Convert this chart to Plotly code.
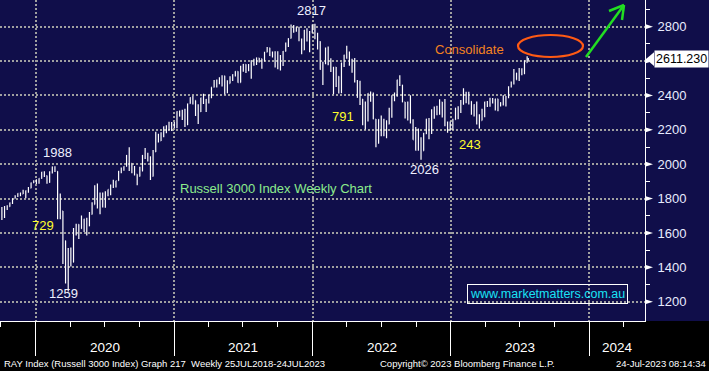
import plotly.graph_objects as go
import pandas as pd

# ---------------- data (weekly bars, Russell 3000 index) ----------------
FIRST_WEEK_END = "2019-10-04"
LAST_BAR_DATE = "2023-07-24"
FIRST_OPEN = 1745

HIGHS = [
    1751, 1757, 1761, 1777, 1800, 1819, 1831, 1835, 1851, 1847, 1868, 1894, 1907, 1912, 1918, 1955, 1959, 1928, 1959, 1987, 1988,
    1905, 1830, 1660, 1463, 1513, 1516, 1629,
    1653, 1647, 1702, 1683, 1688, 1722, 1779, 1878, 1888, 1836, 1836, 1842, 1853, 1882, 1909, 1904, 1961, 1981, 1988, 2053, 2099, 2003, 1990, 1942, 1985,
    2054, 2094, 2066, 2045, 2082, 2188, 2177, 2186, 2219, 2227, 2247, 2245, 2245,
    2308, 2313, 2317, 2322, 2352, 2390, 2398, 2365, 2348, 2386, 2410, 2379,
    2404, 2448, 2489, 2492, 2505, 2517, 2496, 2488, 2511, 2523, 2541, 2528, 2572, 2583, 2579, 2583, 2605, 2614,
    2620, 2614, 2613, 2654, 2682, 2678, 2655, 2657, 2657, 2635, 2658, 2708, 2733, 2812, 2810, 2797, 2800, 2731, 2781, 2791, 2774, 2813,
    2817, 2764, 2715, 2596, 2679, 2685, 2616, 2566, 2553, 2510, 2590, 2637, 2689, 2655, 2613, 2618, 2490, 2485, 2355, 2364,
    2412, 2423, 2417, 2215, 2262, 2283, 2265, 2246, 2328, 2401, 2417, 2491, 2517, 2446, 2356, 2364, 2401, 2262, 2216, 2207,
    2157, 2183, 2265, 2269, 2319, 2336, 2340, 2378, 2350, 2379, 2248, 2249,
    2265, 2327, 2337, 2373, 2441, 2422, 2422, 2362, 2348, 2365, 2291, 2322, 2363, 2368, 2386, 2385, 2381, 2375, 2361, 2401,
    2397, 2454, 2481, 2553, 2521, 2559, 2558, 2604, 2628, 2618,
]
LOWS = [
    1676, 1687, 1733, 1756, 1769, 1800, 1809, 1814, 1827, 1802, 1834, 1869, 1892, 1885, 1887, 1916, 1926, 1887, 1892, 1946, 1954,
    1680, 1680, 1420, 1306, 1259, 1405, 1461,
    1585, 1565, 1625, 1606, 1585, 1682, 1722, 1773, 1743, 1709, 1748, 1746, 1813, 1820, 1862, 1865, 1921, 1947, 1962, 1989, 1960, 1948, 1934, 1877, 1944,
    1979, 2030, 2015, 1908, 1935, 2107, 2126, 2135, 2156, 2180, 2199, 2193, 2210,
    2209, 2277, 2257, 2216, 2254, 2352, 2347, 2281, 2234, 2303, 2350, 2304,
    2353, 2384, 2446, 2446, 2465, 2452, 2405, 2412, 2477, 2484, 2510, 2473, 2499, 2537, 2531, 2541, 2497, 2572,
    2577, 2592, 2555, 2612, 2656, 2629, 2620, 2562, 2552, 2545, 2571, 2656, 2682, 2748, 2764, 2770, 2715, 2639, 2679, 2714, 2651, 2769,
    2727, 2667, 2549, 2461, 2583, 2575, 2536, 2407, 2449, 2411, 2413, 2566, 2614, 2572, 2532, 2475, 2387, 2344, 2227, 2202,
    2248, 2363, 2262, 2099, 2142, 2162, 2163, 2151, 2241, 2270, 2366, 2393, 2455, 2361, 2266, 2254, 2236, 2142, 2079, 2079,
    2026, 2115, 2175, 2145, 2176, 2265, 2284, 2287, 2272, 2220, 2183, 2194,
    2201, 2261, 2262, 2298, 2346, 2355, 2347, 2288, 2278, 2231, 2207, 2263, 2273, 2332, 2334, 2353, 2312, 2308, 2336, 2342,
    2335, 2383, 2446, 2464, 2491, 2484, 2517, 2536, 2591, 2603,
]
CLOSES = [
    1733, 1743, 1753, 1775, 1800, 1816, 1831, 1826, 1844, 1847, 1860, 1891, 1902, 1899, 1917, 1955, 1934, 1894, 1953, 1984, 1959,
    1725, 1728, 1555, 1323, 1458, 1429, 1613,
    1650, 1628, 1625, 1680, 1640, 1708, 1765, 1868, 1776, 1803, 1751, 1822, 1853, 1877, 1872, 1904, 1960, 1973, 1987, 2052, 2005, 1954, 1942, 1929, 1959,
    2051, 2056, 2044, 1929, 2071, 2151, 2135, 2183, 2219, 2198, 2237, 2233, 2242,
    2306, 2280, 2305, 2228, 2352, 2388, 2371, 2294, 2305, 2386, 2367, 2377,
    2404, 2448, 2486, 2483, 2483, 2514, 2475, 2469, 2506, 2521, 2540, 2475, 2569, 2581, 2578, 2544, 2603, 2593,
    2618, 2614, 2599, 2651, 2676, 2631, 2624, 2651, 2592, 2613, 2656, 2700, 2731, 2805, 2796, 2786, 2722, 2664, 2780, 2726, 2765, 2788,
    2736, 2713, 2551, 2584, 2624, 2585, 2544, 2565, 2511, 2438, 2589, 2635, 2637, 2594, 2539, 2478, 2388, 2379, 2322, 2255,
    2412, 2383, 2263, 2121, 2261, 2211, 2254, 2233, 2298, 2395, 2404, 2491, 2461, 2362, 2276, 2359, 2246, 2142, 2080, 2111,
    2078, 2176, 2263, 2187, 2316, 2300, 2335, 2362, 2282, 2234, 2230, 2227,
    2259, 2327, 2312, 2369, 2407, 2372, 2366, 2303, 2347, 2240, 2254, 2283, 2363, 2352, 2371, 2364, 2380, 2358, 2351, 2389,
    2393, 2449, 2468, 2531, 2491, 2554, 2525, 2590, 2604, 2611.23,
]
assert len(HIGHS) == len(LOWS) == len(CLOSES) == 200

Y_TICKS = [1200, 1400, 1600, 1800, 2000, 2200, 2400, 2600, 2800]
Y_TICK_TEXT = ["1200", "1400", "1600", "1800", "2000", "2200", "2400", "", "2800"]
Y_MINOR = [1300, 1500, 1700, 1900, 2100, 2300, 2500, 2700, 2900]
YEAR_STARTS = ["2020-01-01", "2021-01-01", "2022-01-01", "2023-01-01", "2024-01-01"]
YEAR_LABELS = ["2020", "2021", "2022", "2023", "2024"]
YEAR_LABEL_POS = ["2020-07-02", "2021-07-02", "2022-07-02", "2023-07-02", "2024-03-15"]
LAST_PRICE = "2611.230"

# peak / trough labels: (text, x px, y px, colour)
NOTES = [
    ("1988", 57, 152, "#EEF0FF"),
    ("729", 43, 225, "#FFFF2A"),
    ("1259", 63, 293, "#EEF0FF"),
    ("2817", 311, 10, "#EEF0FF"),
    ("791", 343, 116, "#FFFF2A"),
    ("2026", 424, 170, "#EEF0FF"),
    ("243", 470, 144, "#FFFF2A"),
]

# ---------------- build ----------------
dates = list(pd.date_range(FIRST_WEEK_END, periods=len(CLOSES) - 1, freq="W-FRI")) + [pd.Timestamp(LAST_BAR_DATE)]
opens = [FIRST_OPEN] + CLOSES[:-1]
highs = [max(h, o, c) for h, o, c in zip(HIGHS, opens, CLOSES)]
lows = [min(l, o, c) for l, o, c in zip(LOWS, opens, CLOSES)]

NAVY = "#100E4A"
PW, PH = 645, 321


def px(x):
    return x / PW


def py(y):
    return 1 - y / PH


fig = go.Figure(go.Ohlc(
    x=dates, open=opens, high=highs, low=lows, close=CLOSES,
    increasing=dict(line=dict(color="white", width=1.2)),
    decreasing=dict(line=dict(color="white", width=1.2)),
    tickwidth=0.45, hoverinfo="skip", showlegend=False,
))

FONT = "Liberation Sans, Arial, sans-serif"

shapes = []
# bottom black band
shapes.append(dict(type="rect", xref="paper", yref="paper", x0=-0.01, x1=1.2, y0=-0.2, y1=0,
                   fillcolor="black", line=dict(width=0), layer="below"))
# y-axis arrow ticks
for v in Y_TICKS:
    shapes.append(dict(type="path", xref="paper", yref="y",
                       path=f"M 1.0,{v + 15} L {px(653)},{v} L 1.0,{v - 15} Z",
                       fillcolor="white", line=dict(width=0)))
# price tag pointer
shapes.append(dict(type="path", xref="paper", yref="y",
                   path=f"M {px(646)},{CLOSES[-1]} L {px(654)},{CLOSES[-1] + 40} L {px(654)},{CLOSES[-1] - 40} Z",
                   fillcolor="white", line=dict(width=0)))
# consolidate ellipse
shapes.append(dict(type="circle", xref="paper", yref="paper", x0=px(518), x1=px(583), y0=py(57), y1=py(35),
                   line=dict(color="#FF5A14", width=2.2)))
# green arrow
for (x0, y0, x1, y1) in [(586, 57, 624, 5), (624, 5, 609, 11), (624, 5, 622, 20)]:
    shapes.append(dict(type="line", xref="paper", yref="paper", x0=px(x0), y0=py(y0), x1=px(x1), y1=py(y1),
                       line=dict(color="#22DD22", width=2.5)))

ann = []
for t, x, y, c in NOTES:
    ann.append(dict(text=t, xref="paper", yref="paper", x=px(x), y=py(y), showarrow=False,
                    font=dict(family=FONT, size=13, color=c), xanchor="center", yanchor="middle"))
ann.append(dict(text="Russell 3000 Index Weekly Chart", xref="paper", yref="paper", x=px(178), y=py(189),
                showarrow=False, xanchor="left", yanchor="middle",
                font=dict(family=FONT, size=13, color="#8CEB8C")))
ann.append(dict(text="Consolidate", xref="paper", yref="paper", x=px(469), y=py(49), showarrow=False,
                xanchor="center", yanchor="middle", font=dict(family=FONT, size=13, color="#F5821F")))
ann.append(dict(text="www.marketmatters.com.au", xref="paper", yref="paper", x=px(547), y=py(293.5),
                showarrow=False, xanchor="center", yanchor="middle", bordercolor="white", borderwidth=1,
                borderpad=2, font=dict(family=FONT, size=12.5, color="#19E3F5")))
ann.append(dict(text=LAST_PRICE, xref="paper", yref="y", x=px(654), y=CLOSES[-1], showarrow=False,
                xanchor="left", yanchor="middle", bgcolor="white", borderpad=1,
                font=dict(family=FONT, size=12.5, color="black")))
for lab, pos in zip(YEAR_LABELS, YEAR_LABEL_POS):
    ann.append(dict(text=lab, xref="x", yref="paper", x=pos, y=py(347), showarrow=False,
                    xanchor="center", yanchor="middle", font=dict(family=FONT, size=13.5, color="white")))
ann.append(dict(text="RAY Index (Russell 3000 Index) Graph 217  Weekly 25JUL2018-24JUL2023", xref="paper",
                yref="paper", x=px(2), y=py(363), showarrow=False, xanchor="left", yanchor="middle",
                font=dict(family=FONT, size=9.5, color="white")))
ann.append(dict(text="Copyright\u00a9 2023 Bloomberg Finance L.P.", xref="paper", yref="paper", x=px(467),
                y=py(363), showarrow=False, xanchor="center", yanchor="middle",
                font=dict(family=FONT, size=9.5, color="white")))
ann.append(dict(text="24-Jul-2023 08:14:34", xref="paper", yref="paper", x=px(708), y=py(363),
                showarrow=False, xanchor="right", yanchor="middle",
                font=dict(family=FONT, size=9.5, color="white")))

fig.update_layout(
    width=709, height=371,
    margin=dict(l=0, r=64, t=0, b=50, autoexpand=False),
    paper_bgcolor=NAVY, plot_bgcolor=NAVY,
    shapes=shapes, annotations=ann,
    showlegend=False,
    xaxis=dict(
        type="date", range=["2019-09-29", "2024-05-27"], rangeslider=dict(visible=False),
        tickvals=YEAR_STARTS, showticklabels=False, ticks="outside", ticklen=34, tickcolor="white", tickwidth=1,
        showline=True, linecolor="white", linewidth=1, automargin=False,
        showgrid=True, gridcolor="#A0A0A0", gridwidth=2, griddash="2px,2px",
        minor=dict(dtick="M3", tick0="2020-01-01", ticks="outside", ticklen=5, tickcolor="white", showgrid=False),
        zeroline=False, fixedrange=True,
    ),
    yaxis=dict(
        side="right", range=[1088, 2955], tickvals=Y_TICKS, ticktext=Y_TICK_TEXT,
        ticks="outside", ticklen=9, tickcolor=NAVY,
        tickfont=dict(family=FONT, size=13, color="#E8ECFF"),
        showline=True, linecolor="white", linewidth=1, automargin=False,
        showgrid=True, gridcolor="#A0A0A0", gridwidth=2, griddash="2px,2px",
        minor=dict(tickvals=Y_MINOR, ticks="outside", ticklen=4, tickcolor="white", showgrid=False),
        zeroline=False, fixedrange=True,
    ),
)

fig.write_html(
    "out.html",
    config={"displayModeBar": False},
    post_script="document.body.style.margin='0';document.body.style.padding='0';"
                "document.body.style.overflow='hidden';document.body.style.background='#000';",
)
